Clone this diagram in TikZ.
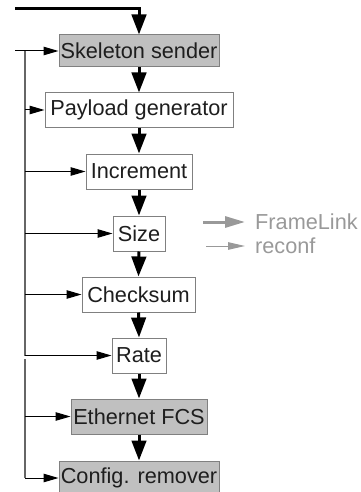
\documentclass[tikz,border=0pt]{standalone}
\usepackage{fontspec}
\setmainfont{Liberation Sans}
\usetikzlibrary{arrows.meta}
\definecolor{boxfill}{HTML}{C0C0C0}
\definecolor{boxline}{HTML}{808080}
\definecolor{txt}{HTML}{1E1E1E}
\definecolor{leg}{HTML}{999999}
\definecolor{busgray}{HTML}{666666}
\begin{document}
\begin{tikzpicture}[x=1pt,y=-1pt,
  box/.style={draw=boxline, line width=1pt, inner sep=0pt, text=txt,
    font=\fontsize{21.7}{24}\selectfont, anchor=center},
  graybox/.style={box, fill=boxfill},
  whitebox/.style={box, fill=white},
  flow/.style={line width=3pt, line join=miter, -{Triangle[length=20pt,width=14.5pt]}},
  conf/.style={line width=1pt, -{Triangle[length=15pt,width=8.5pt]}},
  bus/.style={line width=1.2pt, draw=busgray},
  legtext/.style={anchor=west, inner sep=0pt, text=leg, font=\fontsize{21.7}{24}\selectfont}]
\useasboundingbox (0,0) rectangle (360,492);

\node[graybox, minimum width=160, minimum height=32] (sk) at (139,51) {Skeleton sender};
\node[whitebox, minimum width=188, minimum height=34] (pl) at (139,110) {Payload generator};
\node[whitebox, minimum width=106, minimum height=35] (inc) at (139,171.5) {Increment};
\node[whitebox, minimum width=52, minimum height=35] (sz) at (139,233.5) {Size};
\node[whitebox, minimum width=113, minimum height=35] (cs) at (138.5,294.5) {Checksum};
\node[whitebox, minimum width=54, minimum height=35] (rt) at (139,355.5) {Rate};
\node[graybox, minimum width=136, minimum height=35] (fcs) at (139,416.5) {Ethernet FCS};
\node[graybox, minimum width=160, minimum height=34] (cr) at (139,478) {Config. remover};

% main flow
\coordinate (in) at (15,8.5);
\draw[flow] (in) -| (sk.north);
\draw[flow] (sk.south) -- (pl.north);
\draw[flow] (pl.south) -- (inc.north);
\draw[flow] (inc.south) -- (sz.north);
\draw[flow] (sz.south) -- (cs.north);
\draw[flow] (cs.south) -- (rt.north);
\draw[flow] (rt.south) -- (fcs.north);
\draw[flow] (fcs.south) -- (cr.north);

% reconf bus
\coordinate (bx) at (25,0);
\coordinate (bstart) at (15,51);
\coordinate (bgap) at (25,359);
\draw[bus] (bx |- sk.west) -- (bx |- rt.west);
\draw[bus] (bgap) -- (bx |- cr.west);
\draw[conf] (bstart) -- (sk.west);
\draw[conf] (bx |- pl.west) -- (pl.west);
\draw[conf] (bx |- inc.west) -- (inc.west);
\draw[conf] (bx |- sz.west) -- (sz.west);
\draw[conf] (bx |- cs.west) -- (cs.west);
\draw[conf] (bx |- rt.west) -- (rt.west);
\draw[conf] (bx |- fcs.west) -- (fcs.west);
\draw[conf] (bx |- cr.west) -- (cr.west);

% legend
\node[legtext] (lfl) at (255,222) {FrameLink};
\node[legtext] (lrc) at (255,246) {reconf};
\coordinate (lfs) at (203,222);
\coordinate (lrs) at (206,246);
\draw[draw=leg, line width=3pt, -{Triangle[length=20pt,width=11pt]}, fill=leg] (lfs) -- ([xshift=-10pt]lfl.west);
\draw[draw=leg, line width=1pt, -{Triangle[length=17pt,width=7.5pt]}, fill=leg] (lrs) -- ([xshift=-10pt]lrc.west);
\end{tikzpicture}
\end{document}
